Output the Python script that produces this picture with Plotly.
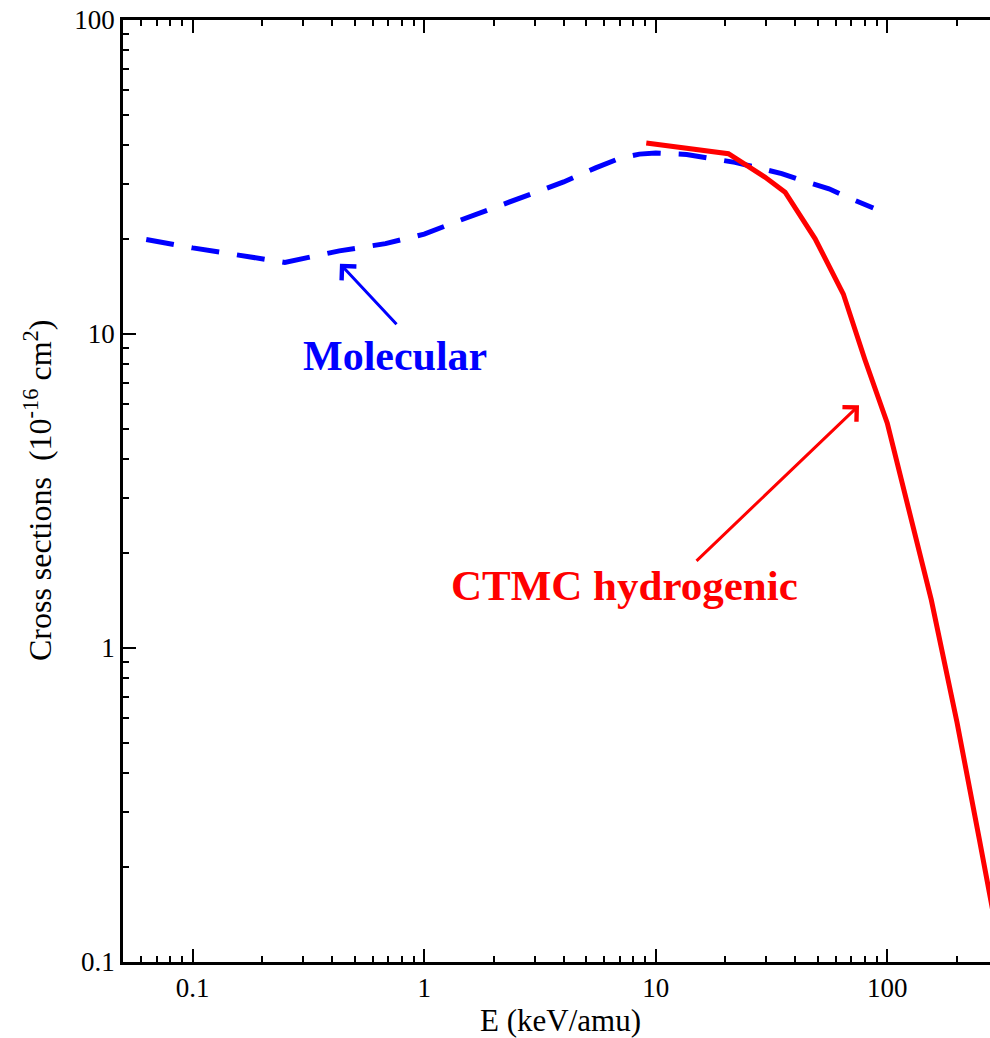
import math
import plotly.graph_objects as go

# Electron-capture cross sections vs. collision energy
molecular_E = [0.063, 0.1, 0.25, 0.43, 0.68, 0.9, 1.0, 1.4, 2.1, 3.0, 4.0, 5.5,
               7.0, 8.5, 10, 13.6, 16.6, 22, 27, 35, 43, 56, 67, 87]
molecular_sigma = [20.0, 18.8, 16.9, 18.4, 19.4, 20.4, 20.8, 22.9, 25.6, 28.2, 30.5, 33.8,
                   36.3, 37.4, 37.7, 37.3, 36.4, 35.2, 34.0, 32.4, 30.8, 29.0, 27.3, 25.2]

ctmc_E = [9.1, 20.6, 29.6, 36.2, 48.8, 64.6, 80, 100, 155, 200, 250, 300]
ctmc_sigma = [40.6, 37.5, 31.6, 28.3, 20.1, 13.4, 8.3, 5.2, 1.42, 0.58, 0.245, 0.12]

x_tick_vals = [0.1, 1, 10, 100]
x_tick_text = ["0.1", "1", "10", "100"]
y_tick_vals = [0.1, 1, 10, 100]
y_tick_text = ["0.1", "1", "10", "100"]

FONT = "Liberation Serif"


def minor_ticks(lo_exp, hi_exp):
    return [m * 10 ** e for e in range(lo_exp, hi_exp + 1) for m in range(2, 10)]


fig = go.Figure()

fig.add_trace(go.Scatter(
    x=molecular_E, y=molecular_sigma, mode="lines",
    line=dict(color="#0000ff", width=5, dash="28px,18px"),
    showlegend=False,
))
fig.add_trace(go.Scatter(
    x=ctmc_E, y=ctmc_sigma, mode="lines",
    line=dict(color="#ff0000", width=5),
    showlegend=False,
))

fig.update_layout(
    xaxis=dict(
        type="log",
        range=[math.log10(0.05), 2.4436],
        showgrid=False, zeroline=False,
        showline=True, linecolor="black", linewidth=2.5, mirror="ticks",
        ticks="inside", ticklen=13, tickwidth=2, tickcolor="black",
        tickmode="array", tickvals=x_tick_vals, ticktext=x_tick_text,
        tickfont=dict(family=FONT, size=27, color="black"),
        minor=dict(ticks="inside", ticklen=6, tickwidth=2, tickcolor="black",
                   tickvals=minor_ticks(-2, 2)),
    ),
    yaxis=dict(
        type="log",
        range=[-1, 2],
        showgrid=False, zeroline=False,
        showline=True, linecolor="black", linewidth=2.5,
        ticks="inside", ticklen=13, tickwidth=2, tickcolor="black",
        tickmode="array", tickvals=y_tick_vals, ticktext=y_tick_text,
        tickfont=dict(family=FONT, size=27, color="black"),
        minor=dict(ticks="inside", ticklen=6, tickwidth=2, tickcolor="black",
                   tickvals=minor_ticks(-1, 1)),
    ),
)

annotations = [
    # axis titles
    dict(text="E (keV/amu)", xref="paper", yref="paper", x=0.5046, y=-0.062,
         xanchor="center", yanchor="middle", showarrow=False,
         font=dict(family=FONT, size=31, color="black")),
    dict(text="Cross sections\u00a0\u00a0(10<sup>-16</sup> cm<sup>2</sup>)",
         xref="paper", yref="paper", x=-0.098, y=0.5, textangle=-90,
         xanchor="center", yanchor="middle", showarrow=False,
         font=dict(family=FONT, size=32, color="black")),
    # curve labels
    dict(text="<b>Molecular</b>", x=math.log10(0.7468), y=math.log10(8.485),
         xanchor="center", yanchor="middle", showarrow=False,
         font=dict(family=FONT, size=42, color="#0000ff")),
    dict(text="<b>CTMC hydrogenic</b>", x=math.log10(7.36), y=math.log10(1.583),
         xanchor="center", yanchor="middle", showarrow=False,
         font=dict(family=FONT, size=43, color="#ff0000")),
    # pointer arrows
    dict(text="", x=math.log10(0.4325), y=math.log10(16.74), ax=58, ay=62,
         showarrow=True, arrowhead=4, arrowsize=1.3, arrowwidth=3,
         arrowcolor="#0000ff", standoff=0, startstandoff=0),
    dict(text="", x=math.log10(75.5), y=math.log10(5.93), ax=-164, ay=157,
         showarrow=True, arrowhead=4, arrowsize=1.3, arrowwidth=3,
         arrowcolor="#ff0000", standoff=0, startstandoff=0),
]

fig.update_layout(
    width=990, height=1038,
    margin=dict(l=123, r=0, t=20, b=76, pad=0),
    paper_bgcolor="white", plot_bgcolor="white",
    font=dict(family=FONT, color="black"),
    annotations=annotations,
    showlegend=False,
)

fig.write_html("out.html")
